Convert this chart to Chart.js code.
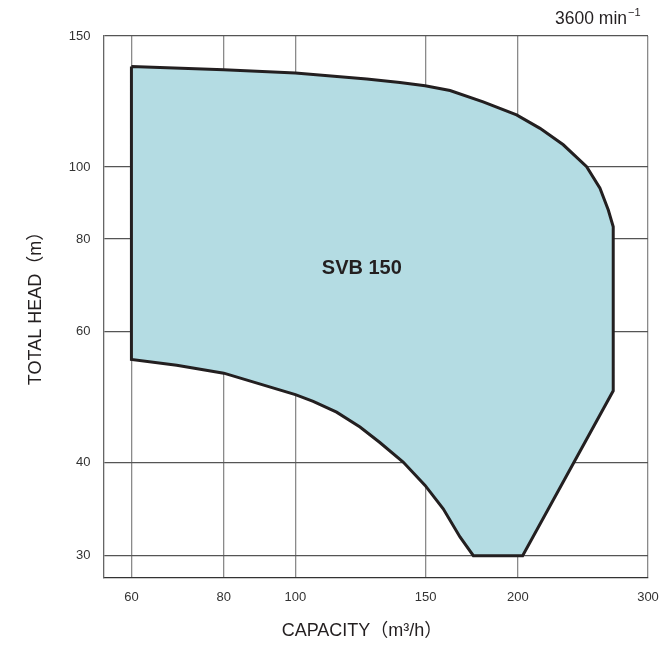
<!DOCTYPE html>
<html>
<head>
<meta charset="utf-8">
<script src="https://cdn.jsdelivr.net/npm/chart.js@4/dist/chart.umd.min.js"></script>
<style>
  html, body { margin: 0; padding: 0; background: #fff; }
  #wrap { width: 665px; height: 647px; }
</style>
</head>
<body>
<div id="wrap"><canvas id="perfChart" width="665" height="647"></canvas></div>
<script>
// SVB 150 operating range, 3600 min-1 (log-log)
const capacity = [60, 80, 100, 124.9, 138.5, 149.8, 161.9, 179.5, 199.2, 214.3, 230.4, 247.8, 258.3, 265.1, 269.2,
                  269.2, 203, 174.1, 167, 158.5, 149.8, 139.9, 130.1, 122.3, 113.7, 105.7, 100, 80, 69.1, 60, 60];
const head = [136.5, 135.1, 133.8, 131.3, 129.9, 128.6, 126.7, 122.3, 117.5, 112.7, 107.1, 100.1, 93.6, 87.5, 83.1,
              50, 30, 30, 31.8, 34.7, 37.3, 40.1, 42.6, 44.7, 46.8, 48.4, 49.4, 52.8, 54.1, 55.1, 136.5];
const xTicks = [60, 80, 100, 150, 200, 300];
const yTicks = [30, 40, 60, 80, 100, 150];
const modelName = 'SVB 150';
const labelPos = { x: 123, y: 73 };

const sans = "'Liberation Sans', Arial, sans-serif";
const points = capacity.map((q, i) => ({ x: q, y: head[i] }));

// texts outside the chart area
const extraText = {
  id: 'extraText',
  afterDraw(chart) {
    const c = chart.ctx;
    const xs = chart.scales.x, ys = chart.scales.y;
    c.save();
    c.fillStyle = '#231f20';
    // model name
    c.font = "bold 20px " + sans;
    c.textAlign = 'center';
    c.textBaseline = 'middle';
    c.fillText(modelName, xs.getPixelForValue(labelPos.x), ys.getPixelForValue(labelPos.y));
    // speed
    c.font = "17.5px " + sans;
    c.textAlign = 'right';
    c.textBaseline = 'alphabetic';
    c.fillText('3600 min', 627, 24);
    c.font = "11px " + sans;
    c.textAlign = 'left';
    c.fillText('\u22121', 628, 16);
    // axis titles
    c.font = "18px " + sans + ", 'Noto Sans CJK JP'";
    c.textAlign = 'center';
    c.textBaseline = 'middle';
    c.fillText('CAPACITY\uFF08m\u00B3/h\uFF09', 362, 631);
    c.translate(36, 304);
    c.rotate(-Math.PI / 2);
    c.fillText('TOTAL HEAD\uFF08m\uFF09', 0, 0);
    c.restore();
  }
};

new Chart(document.getElementById('perfChart'), {
  type: 'line',
  data: {
    datasets: [{
      data: points,
      fill: 'shape',
      backgroundColor: '#b4dce3',
      borderColor: '#231f20',
      borderWidth: 3,
      borderJoinStyle: 'miter',
      pointRadius: 0,
      tension: 0
    }]
  },
  options: {
    responsive: false,
    animation: false,
    layout: { padding: { top: 36, right: 17, left: 0, bottom: 0 } },
    plugins: { legend: { display: false }, tooltip: { enabled: false } },
    scales: {
      x: {
        type: 'logarithmic',
        min: 55, max: 300,
        afterFit: s => { s.height = 69; s.paddingRight = 0; s.paddingLeft = 0; },
        afterBuildTicks: s => { s.ticks = xTicks.map(v => ({ value: v })); },
        ticks: {
          callback: v => v,
          padding: 12,
          color: '#333',
          maxRotation: 0,
          font: { size: 13, family: sans }
        },
        grid: { color: '#8a8a8a', lineWidth: 1.3, drawTicks: false },
        border: { color: '#333', width: 1.3 }
      },
      y: {
        type: 'logarithmic',
        min: 28, max: 150,
        afterFit: s => { s.width = 103.5; s.paddingTop = 0; s.paddingBottom = 0; },
        afterBuildTicks: s => { s.ticks = yTicks.map(v => ({ value: v })); },
        ticks: {
          callback: v => v,
          padding: 13,
          color: '#333',
          font: { size: 13, family: sans }
        },
        grid: { color: '#555', lineWidth: 1.3, drawTicks: false },
        border: { color: '#666', width: 1.3 }
      }
    }
  },
  plugins: [extraText]
});
</script>
</body>
</html>
